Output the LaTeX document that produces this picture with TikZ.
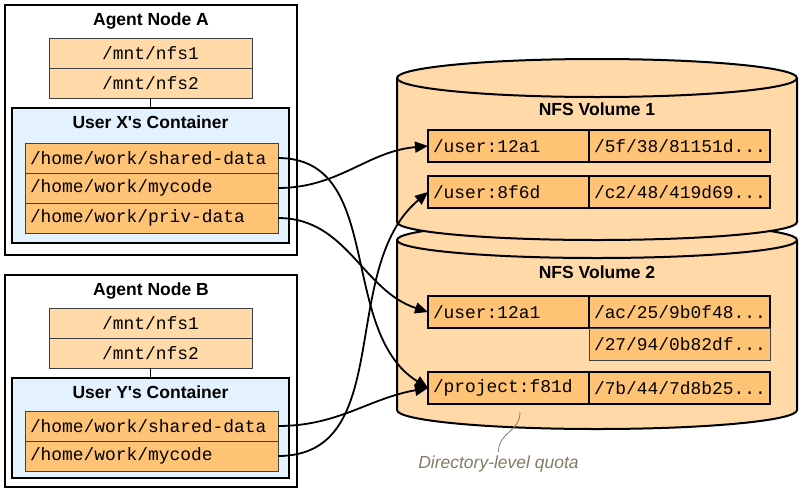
\documentclass[tikz,border=0pt]{standalone}
\usepackage{fontspec}
\setmainfont{Liberation Sans}
\setmonofont{Liberation Mono}
\usepackage{tikz}
\usetikzlibrary{positioning,arrows.meta}
\definecolor{nfs-light}{RGB}{255,217,168}
\definecolor{nfs-dark}{RGB}{255,195,118}
\definecolor{ctr-blue}{RGB}{227,242,254}
\definecolor{note-grey}{RGB}{132,122,104}
\newcommand{\monotext}{\fontsize{17.9}{20}\selectfont\ttfamily}
\newcommand{\titletext}{\fontsize{17.5}{20}\selectfont\bfseries}

\begin{document}
\begin{tikzpicture}[x=1pt,y=1pt,
    agentbox/.style={draw, line width=2pt, fill=white},
    ctrbox/.style={draw, line width=2.4pt, fill=ctr-blue, minimum width=277pt},
    mntbox/.style={draw=black!75, line width=0.8pt, fill=nfs-light, minimum width=203pt, minimum height=30pt, inner sep=0pt, outer sep=0pt, font=\monotext},
    pathrow/.style={draw=black!75, line width=0.8pt, fill=nfs-dark, text width=243pt, align=left, inner xsep=5pt, inner ysep=0pt, outer sep=0pt, minimum height=30pt, font=\monotext},
    boxtitle/.style={anchor=base, font=\titletext},
    cylbody/.style={fill=nfs-light, draw, line width=2pt},
    dircell/.style={draw, line width=2pt, fill=nfs-dark, align=left, inner xsep=5pt, inner ysep=0pt, outer sep=0pt, minimum height=32pt, font=\monotext},
    link/.style={line width=1.8pt, -{Triangle[length=13pt,width=11pt]}}]
    \useasboundingbox (0,0) rectangle (802,-493);

    \node[agentbox, minimum width=292pt, minimum height=250pt] (nodeA) at (151,-130) {};
    \node[boxtitle] (titleA) at (151,-25) {Agent Node A};
    \node[mntbox] (amnt1) at (150.5,-53) {/mnt/nfs1};
    \node[mntbox, below=0pt of amnt1] (amnt2) {/mnt/nfs2};
    \node[ctrbox, minimum height=135pt] (ctrX) at (150.5,-175.5) {};
    \draw[line width=1.5pt] (amnt2.south) -- (ctrX.north);
    \node[boxtitle] (titleX) at (150.5,-128) {User X\textquotesingle s Container};
    \node[pathrow] (xsh) at (151.5,-158) {/home/work/shared-data};
    \node[pathrow, below=0pt of xsh] (xmy) {/home/work/mycode};
    \node[pathrow, below=0pt of xmy] (xpriv) {/home/work/priv-data};

    \node[agentbox, minimum width=292pt, minimum height=212pt] (nodeB) at (151,-381) {};
    \node[boxtitle] (titleB) at (151,-295) {Agent Node B};
    \node[mntbox] (bmnt1) at (150.5,-323) {/mnt/nfs1};
    \node[mntbox, below=0pt of bmnt1] (bmnt2) {/mnt/nfs2};
    \node[ctrbox, minimum height=100pt] (ctrY) at (150.5,-428) {};
    \draw[line width=1.5pt] (bmnt2.south) -- (ctrY.north);
    \node[boxtitle] (titleY) at (150.5,-398) {User Y\textquotesingle s Container};
    \node[pathrow] (ysh) at (151.5,-426) {/home/work/shared-data};
    \node[pathrow, below=0pt of ysh] (ymy) {/home/work/mycode};

    \filldraw[cylbody] (397,-240) -- (397,-410) arc[start angle=180, end angle=360, x radius=200, y radius=19]
        -- (797,-240) arc[start angle=0, end angle=180, x radius=200, y radius=18] -- cycle;
    \draw[line width=2pt] (397,-240) arc[start angle=180, end angle=360, x radius=200, y radius=18];
    \filldraw[cylbody] (397,-78) -- (397,-222) arc[start angle=180, end angle=360, x radius=200, y radius=18]
        -- (797,-78) arc[start angle=0, end angle=180, x radius=200, y radius=19] -- cycle;
    \draw[line width=2pt] (397,-78) arc[start angle=180, end angle=360, x radius=200, y radius=19];

    \node[boxtitle] (vol1) at (597,-115) {NFS Volume 1};
    \node[dircell, text width=151pt] (v1u12) at (508.5,-146) {/user:12a1};
    \node[dircell, text width=171pt, right=0pt of v1u12] (v1h12) {/5f/38/81151d...};
    \node[dircell, text width=151pt] (v1u8) at (508.5,-192) {/user:8f6d};
    \node[dircell, text width=171pt, right=0pt of v1u8] (v1h8) {/c2/48/419d69...};

    \node[boxtitle] (vol2) at (597,-278) {NFS Volume 2};
    \node[dircell, text width=151pt] (v2u12) at (508.5,-312) {/user:12a1};
    \node[dircell, text width=171pt, right=0pt of v2u12] (v2h12) {/ac/25/9b0f48...};
    \node[dircell, text width=171pt, draw=black!75, line width=0.8pt, below=0pt of v2h12] (v2h12b) {/27/94/0b82df...};
    \node[dircell, text width=151pt] (v2proj) at (508.5,-388) {/project:f81d};
    \node[dircell, text width=171pt, right=0pt of v2proj] (v2hproj) {/7b/44/7d8b25...};

    \draw[link] (xsh.east) to[out=0, in=148] (v2proj.west);
    \draw[link] (xmy.east) to[out=0, in=185] (v1u12.west);
    \draw[link] (xpriv.east) to[out=0, in=162] (v2u12.west);
    \draw[link] (ysh.east) to[out=0, in=190] (v2proj.west);
    \draw[link] (ymy.east) to[out=0, in=220] (v1u8.west);

    \node[anchor=base, font=\fontsize{17.5}{20}\selectfont\itshape, text=note-grey] (quota) at (498.5,-468) {Directory-level quota};
    \coordinate (quotatip) at (520,-412);
    \draw[note-grey, line width=0.8pt] (quota.north) .. controls +(0,20) and +(0,-20) .. (quotatip);
\end{tikzpicture}
\end{document}
